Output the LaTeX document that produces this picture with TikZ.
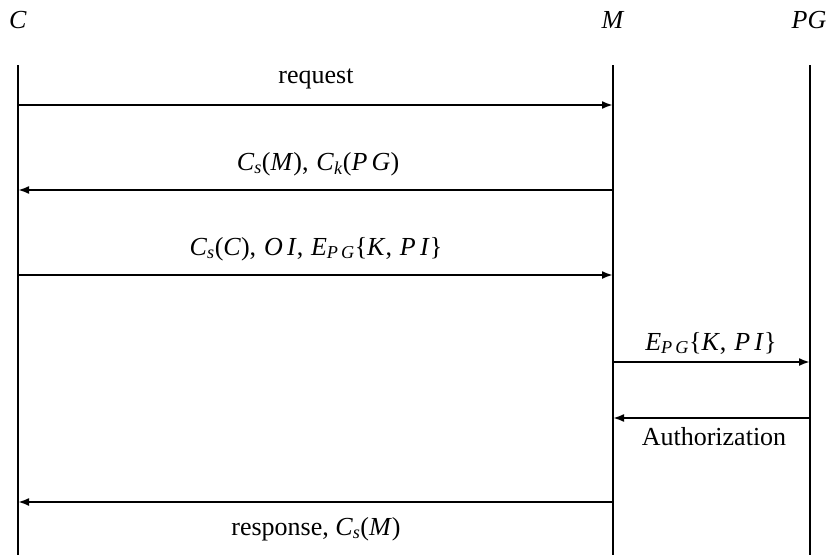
\documentclass[tikz,border=0pt]{standalone}
\usepackage{fontspec}
\setmainfont{Liberation Serif}
\usetikzlibrary{arrows.meta}
% italic identifiers and subscripts set in the text font
\newcommand{\vi}[1]{\textit{#1}}
\newcommand{\vsub}[2]{\textit{#1}\textsubscript{\textit{#2}}}
\newcommand{\sep}{,\hspace{0.3em}}
\begin{document}
\begin{tikzpicture}[x=1pt,y=-1pt,
  every node/.style={font=\fontsize{26}{31}\selectfont, inner sep=0pt},
  lifeline/.style={line width=2pt},
  msg/.style={line width=2pt, -{Latex[length=11pt,width=8pt]}},
  lbl/.style={anchor=base}]
\useasboundingbox (0,0) rectangle (830,555);

% participants
\node[lbl] (hC) at (18,28) {\vi{C}};
\node[lbl] (hM) at (613,28) {\vi{M}};
\node[lbl] (hPG) at (809,28) {\vi{PG}};

% lifelines
\coordinate (Ct) at (18,65);  \coordinate (Cb) at (18,555);
\coordinate (Mt) at (613,65); \coordinate (Mb) at (613,555);
\coordinate (Pt) at (810,65); \coordinate (Pb) at (810,555);
\draw[lifeline] (Ct) -- (Cb);
\draw[lifeline] (Mt) -- (Mb);
\draw[lifeline] (Pt) -- (Pb);

% message end points
\coordinate (c1) at (18,105);  \coordinate (m1) at (613,105);
\coordinate (c2) at (18,190);  \coordinate (m2) at (613,190);
\coordinate (c3) at (18,275);  \coordinate (m3) at (613,275);
\coordinate (m4) at (613,362); \coordinate (p4) at (810,362);
\coordinate (m5) at (613,418); \coordinate (p5) at (810,418);
\coordinate (c6) at (18,502);  \coordinate (m6) at (613,502);

% messages
\draw[msg] (c1) -- (m1);
\node[lbl] (l1) at (316,83) {request};
\draw[msg] (m2) -- (c2);
\node[lbl] (l2) at (318,170) {\vsub{C}{s}(\vi{M})\sep\vsub{C}{k}(\vi{P\,G})};
\draw[msg] (c3) -- (m3);
\node[lbl] (l3) at (316,255) {\vsub{C}{s}(\vi{C})\sep\vi{O\,I}\sep\vsub{E}{P\,G}\{\vi{K}\sep\vi{P\,I}\}};
\draw[msg] (m4) -- (p4);
\node[lbl] (l4) at (711,350) {\vsub{E}{P\,G}\{\vi{K}\sep\vi{P\,I}\}};
\draw[msg] (p5) -- (m5);
\node[lbl] (l5) at (714,445) {Authorization};
\draw[msg] (m6) -- (c6);
\node[lbl] (l6) at (316,535) {response, \vsub{C}{s}(\vi{M})};
\end{tikzpicture}
\end{document}
